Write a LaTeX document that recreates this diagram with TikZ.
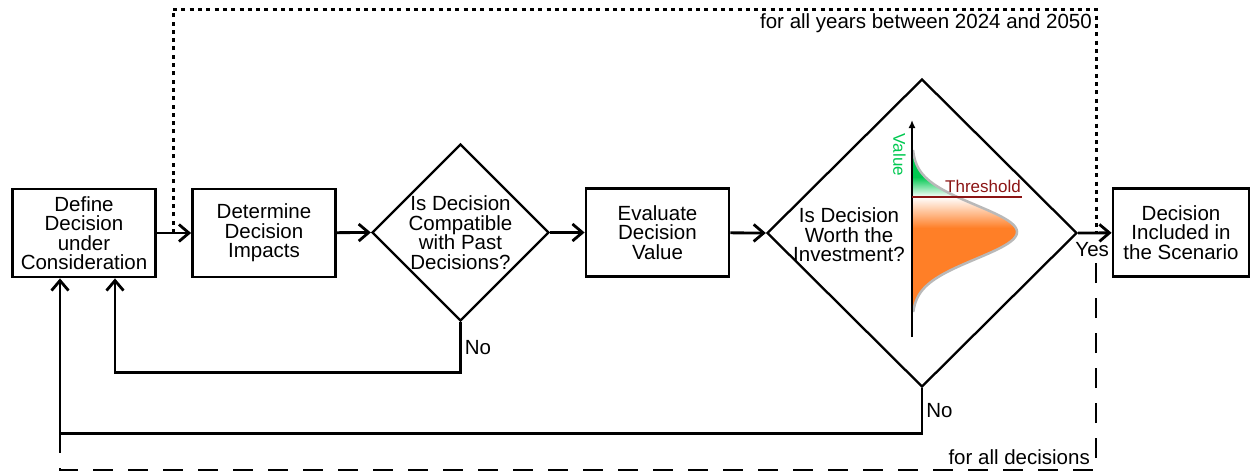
\documentclass[tikz,border=0pt]{standalone}
\usepackage{fontspec}
\setmainfont{Liberation Sans}
\usetikzlibrary{arrows.meta,shapes.geometric}
\definecolor{vgreen}{RGB}{0,200,80}
\definecolor{vorange}{RGB}{255,127,39}
\definecolor{thred}{RGB}{139,20,20}
\definecolor{curvegray}{RGB}{185,185,185}
\begin{document}
\begin{tikzpicture}[x=1pt,y=-1pt,
  every node/.style={font=\fontsize{20.5}{19.5}\selectfont},
  procbox/.style={draw, rectangle, line width=2.8pt, minimum width=143pt, minimum height=88pt, align=center, inner sep=0pt},
  decision/.style={draw, diamond, line width=2.3pt, inner sep=0pt},
  flow/.style={line width=2.8pt, -{Straight Barb[length=10pt,width=17pt]}},
  loopyears/.style={line width=3pt, dash pattern=on 4pt off 4.3pt},
  loopdec/.style={line width=2.8pt, dash pattern=on 20pt off 15pt},
  lbl/.style={inner sep=3pt},
  smalltxt/.style={font=\fontsize{17}{17}\selectfont}
]
\useasboundingbox (0,0) rectangle (1254,471);

% nodes
\node[procbox] (b1) at (84,233) {Define\\Decision\\under\\Consideration};
\node[procbox] (b2) at (264,233) {Determine\\Decision\\Impacts};
\node[decision, minimum width=177pt, minimum height=177pt,
  label={[align=center]center:Is Decision\\Compatible\\with Past\\Decisions?}] (d1) at (460.5,232.5) {};
\node[procbox] (b3) at (657.5,232.5) {Evaluate\\Decision\\Value};
\node[decision, minimum width=310pt, minimum height=308pt] (d2) at (922,233) {};
\node[align=center] (d2t) at (849,235) {Is Decision\\Worth the\\Investment?};
\node[procbox, minimum width=136pt] (b4) at (1181,232.5) {Decision\\Included in\\the Scenario};

% distribution plot
\begin{scope}
  \clip (912,150) -- plot[domain=150:197,samples=40] ({912+105*exp(-((\x-232)^2)/1458)},\x) -- (912,197) -- cycle;
  \fill[vgreen] (912,145) rectangle (1025,178);
  \shade[top color=vgreen, bottom color=white] (912,177) rectangle (1025,197);
\end{scope}
\begin{scope}
  \clip (912,197) -- plot[domain=197:312,samples=60] ({912+105*exp(-((\x-232)^2)/1458)},\x) -- (912,312) -- cycle;
  \shade[top color=white, bottom color=vorange] (912,197) rectangle (1025,228);
  \fill[vorange] (912,227.5) rectangle (1025,315);
\end{scope}
\draw[curvegray, line width=2.5pt] plot[domain=150:312,samples=100] ({912+105*exp(-((\x-232)^2)/1458)},\x);
\coordinate (axbot) at (912,337);
\coordinate (axtop) at (912,120);
\draw[line width=2pt, -{Latex[length=8pt,width=7pt]}] (axbot) -- (axtop);
\coordinate (thl) at (912,197);
\coordinate (thr) at (1022,197);
\draw[thred, line width=2.2pt] (thl) -- (thr);
\node[smalltxt, text=thred, anchor=base east, inner sep=0pt] (thlab) at (1021,192) {Threshold};
\node[smalltxt, text=vgreen, rotate=-90, inner sep=0pt] (vallab) at (899.5,155) {Value};

% main flow
\draw[flow] (b1) -- (b2);
\draw[flow] (b2) -- (d1.west);
\draw[flow] (d1.east) -- (b3);
\draw[flow] (b3) -- (d2.west);
\draw[flow] (d2.east) -- node[pos=0.42, anchor=base, yshift=-24pt, inner sep=0pt] {Yes} (b4);

% feedback loops
\draw[flow] (d1.south) -- node[right, lbl] {No} ++(0,50) -| ([xshift=31pt]b1.south);
\coordinate (d2low) at ([yshift=-45pt]d2.south);
\coordinate (fbcorner) at ([xshift=-24pt]b1.south |- d2low);
\draw[flow] (d2.south) -- node[right, lbl] {No} (d2low) -- (fbcorner) -- ([xshift=-24pt]b1.south);

% outer loops
\coordinate (dotL) at (173,233);
\coordinate (dotR) at (1096,233);
\draw[loopyears] (dotL) -- ++(0,-224) -| (dotR);
\node[anchor=base east, inner sep=0pt] (yearslab) at (1092,28) {for all years between 2024 and 2050};

\coordinate (yesgap) at (1096,259);
\draw[loopdec] (fbcorner) -- ++(0,37) -| (yesgap);
\node[anchor=base east, inner sep=0pt] (declab) at (1090,464) {for all decisions};
\end{tikzpicture}
\end{document}
